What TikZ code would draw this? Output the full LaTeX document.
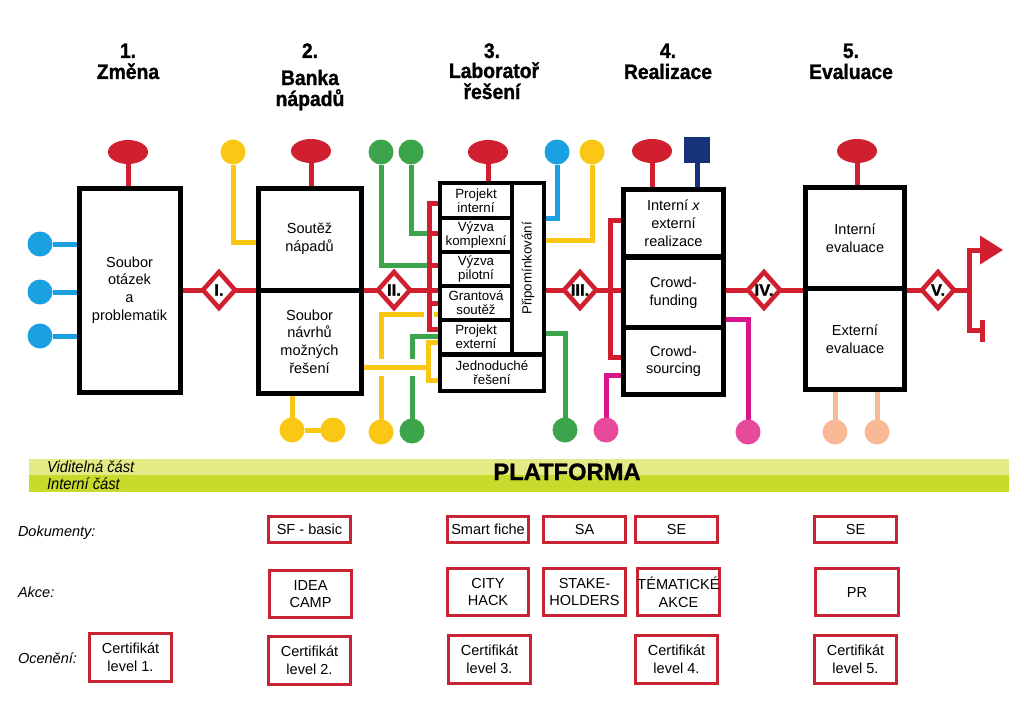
\documentclass[tikz,border=0pt]{standalone}
\usepackage{fontspec}
\setmainfont{Liberation Sans}
\newfontfamily\condfont{Liberation Sans}[FakeStretch=0.92]
\newfontfamily\heavyfont{Liberation Sans}[FakeStretch=0.92, BoldFeatures={FakeBold=1.2}]
\newfontfamily\heavywide{Liberation Sans}[BoldFeatures={FakeBold=1.2}]
\usetikzlibrary{shapes.geometric}
\pgfdeclarelayer{back}
\pgfdeclarelayer{bg}
\pgfsetlayers{back,bg,main}
\definecolor{cred}{RGB}{208,32,48}
\definecolor{cyel}{RGB}{250,200,20}
\definecolor{cgrn}{RGB}{60,165,75}
\definecolor{cblu}{RGB}{27,160,226}
\definecolor{cnav}{RGB}{22,50,120}
\definecolor{cmag}{RGB}{214,22,138}
\definecolor{cpink}{RGB}{232,74,155}
\definecolor{cpch}{RGB}{248,186,150}
\definecolor{bandA}{RGB}{228,234,134}
\definecolor{bandB}{RGB}{200,218,44}
\definecolor{bred}{RGB}{200,35,50}
\newcommand\lbl{\fontsize{10.9}{13.2}\selectfont}
\newcommand\cellf{\fontsize{10}{10.5}\selectfont}
\newcommand\diaf{\heavywide\bfseries\fontsize{12.5}{12.5}\selectfont}
\newcommand\headf{\heavyfont\bfseries\fontsize{15.75}{18}\selectfont}
\begin{document}
\begin{tikzpicture}[x=0.75pt,y=-0.75pt,
  every node/.style={inner sep=0pt, outer sep=0pt},
  ln/.style={line width=3.75pt},
  rl/.style={ln, draw=cred},
  yl/.style={ln, draw=cyel},
  gl/.style={ln, draw=cgrn},
  bl/.style={ln, draw=cblu},
  ml/.style={ln, draw=cmag},
  pl/.style={ln, draw=cpch},
  nl/.style={ln, draw=cnav},
  dot/.style={circle, fill=#1, minimum size=18.75pt},
  ell/.style={ellipse, fill=cred, minimum width=30pt, minimum height=18pt},
  box/.style={draw=black, line width=3.75pt, fill=white, align=center, font=\lbl},
  cell/.style={fill=white, align=center, font=\cellf},
  dia/.style={diamond, draw=cred, fill=white, line width=3.4pt, minimum width=24pt, minimum height=27pt},
  dialbl/.style={font=\diaf},
  head/.style={font=\headf, anchor=base},
  doc/.style={draw=bred, line width=2.25pt, align=center, font=\lbl, minimum width=61.5pt},
  rowlbl/.style={font=\lbl\itshape, anchor=base west},
  bandlbl/.style={font=\condfont\itshape\fontsize{12}{12}\selectfont, anchor=base west}
]
\useasboundingbox (0,0) rectangle (1024,724);
\begin{pgfonlayer}{back}
\fill[white] (0,0) rectangle (1024,724);
\end{pgfonlayer}

% headings
\node[head] (h1n) at (128,58) {1.};
\node[head] (h1t) at (128,79) {Změna};
\node[head] (h2n) at (310,58) {2.};
\node[head] (h2t) at (310,85) {Banka};
\node[head] (h2u) at (310,106) {nápadů};
\node[head] (h3n) at (492,58) {3.};
\node[head] (h3t) at (494,78) {Laboratoř};
\node[head] (h3u) at (492,99) {řešení};
\node[head] (h4n) at (668,58) {4.};
\node[head] (h4t) at (668,79) {Realizace};
\node[head] (h5n) at (851,58) {5.};
\node[head] (h5t) at (851,79) {Evaluace};

% boxes
\node[box, minimum width=75.75pt, minimum height=153pt] (b1) at (129.5,290) {Soubor\\otázek\\a\\problematik};
\node[box, minimum width=77.25pt, minimum height=76.5pt] (b2a) at (309.5,239) {Soutěž\\nápadů};
\node[box, minimum width=77.25pt, minimum height=77.25pt] (b2b) at (309.5,341.5) {Soubor\\návrhů\\možných\\řešení};

\node[fill=black, minimum width=81pt, minimum height=159pt] (b3) at (492,287) {};
\node[cell, minimum width=51pt, minimum height=23.25pt] (r1) at (476,200.5) {Projekt\\interní};
\node[cell, minimum width=51pt, minimum height=22.5pt] (r2) at (476,235) {Výzva\\komplexní};
\node[cell, minimum width=51pt, minimum height=22.5pt] (r3) at (476,269) {Výzva\\pilotní};
\node[cell, minimum width=51pt, minimum height=22.5pt] (r4) at (476,303) {Grantová\\soutěž};
\node[cell, minimum width=51pt, minimum height=22.5pt] (r5) at (476,337) {Projekt\\externí};
\node[cell, minimum width=75pt, minimum height=24pt] (r6) at (492,373) {Jednoduché\\řešení};
\node[cell, minimum width=21pt, minimum height=125.25pt] (rp) at (528,268.5) {};
\node[font=\cellf, rotate=90] (rpt) at (rp) {Připomínkování};

\node[box, minimum width=75pt, minimum height=50.6pt] (b4a) at (673.5,223.25) {Interní \textit{x}\\externí\\realizace};
\node[box, minimum width=75pt, minimum height=53.25pt] (b4b) at (673.5,292.5) {Crowd-\\funding};
\node[box, minimum width=75pt, minimum height=49.9pt] (b4c) at (673.5,361.25) {Crowd-\\sourcing};

\node[box, minimum width=74.25pt, minimum height=76.1pt] (b5a) at (855,238.25) {Interní\\evaluace};
\node[box, minimum width=74.25pt, minimum height=75.4pt] (b5b) at (855,339.25) {Externí\\evaluace};

% diamonds
\node[dia] (dI) at (219,290) {};   \node[dialbl] (tI) at (dI) {I.};
\node[dia] (dII) at (394,290) {};  \node[dialbl] (tII) at (dII) {II.};
\node[dia] (dIII) at (580,290) {}; \node[dialbl] (tIII) at (dIII) {III.};
\node[dia] (dIV) at (764,290) {};  \node[dialbl] (tIV) at (dIV) {IV.};
\node[dia] (dV) at (938,290) {};   \node[dialbl] (tV) at (dV) {V.};

% ellipses and square
\node[ell] (e1) at (128,152) {};
\node[ell] (e2) at (311,151) {};
\node[ell] (e3) at (488,152) {};
\node[ell] (e4) at (652,151) {};
\node[ell] (e5) at (857,151) {};
\node[fill=cnav, minimum size=19.5pt] (sq) at (697,150) {};

% circles
\node[dot=cblu] (u1) at (40,244) {};
\node[dot=cblu] (u2) at (40,292) {};
\node[dot=cblu] (u3) at (40,336) {};
\node[dot=cyel] (y1) at (233,152) {};
\node[dot=cyel] (ya) at (292,430) {};
\node[dot=cyel] (yb2) at (333,430) {};
\node[dot=cgrn] (g1) at (381,152) {};
\node[dot=cgrn] (g2) at (411,152) {};
\node[dot=cyel] (yb) at (381,432) {};
\node[dot=cgrn] (gb) at (412,431) {};
\node[dot=cblu] (bc) at (557,152) {};
\node[dot=cyel] (yc2) at (592,152) {};
\node[dot=cgrn] (gc2) at (565,430) {};
\node[dot=cpink] (mc1) at (606,430) {};
\node[dot=cpink] (mc2) at (748,432) {};
\node[dot=cpch] (pc1) at (835,432) {};
\node[dot=cpch] (pc2) at (877,432) {};

% bend points
\coordinate (y1j) at (233,242);
\coordinate (k3a) at (429,203);
\coordinate (g2j) at (429,233);
\coordinate (g1j) at (429,265);
\coordinate (k3m) at (429,303);
\coordinate (k3b) at (429,329);
\coordinate (yj) at (381,314);
\coordinate (gj) at (412,336);
\coordinate (yh) at (428,367);
\coordinate (yt) at (428,342);
\coordinate (ybt) at (428,380);
\coordinate (bj) at (557,218);
\coordinate (yj2) at (592,240);
\coordinate (gj2) at (565,333);
\coordinate (k4a) at (610,220);
\coordinate (k4b) at (610,357);
\coordinate (mj1) at (606,375);
\coordinate (mj2) at (748,319);
\coordinate (fj) at (969,290);
\coordinate (fa) at (969,250);
\coordinate (fb) at (969,330);
\coordinate (fe) at (982,330);
\coordinate (fet) at (982,320);
\coordinate (feb) at (982,342);
\coordinate (flag) at (980,250);

\begin{pgfonlayer}{bg}
  % stems
  \draw[rl] (e1) -- (e1 |- b1);
  \draw[rl] (e2) -- (e2 |- b2a);
  \draw[rl] (e3) -- (e3 |- b3);
  \draw[rl] (e4) -- (e4 |- b4a);
  \draw[nl] (sq) -- (sq |- b4a);
  \draw[rl] (e5) -- (e5 |- b5a);
  % box 1
  \draw[bl] (u1) -- (u1 -| b1);
  \draw[bl] (u2) -- (u2 -| b1);
  \draw[bl] (u3) -- (u3 -| b1);
  % box 2
  \draw[yl] (y1) |- (y1j -| b2a);
  \draw[yl] (ya) -- (ya |- b2b);
  \draw[yl] (ya) -- (yb2);
  % box 3 left
  \draw[gl] (g1) |- (g1j);
  \draw[gl] (g2) |- (g2j);
  \draw[yl] (yb) |- (yj -| r4);
  \draw[gl] (gb) |- (gj -| r5);
  \draw[white, line width=12.75pt, shorten <=-4.5pt, shorten >=-4.5pt] (yb |- yh) -- (gb |- yh);
  \draw[yl] (b2b |- yh) -- (yh);
  \draw[yl] (yt -| r5) -- (yt) -- (ybt) -- (ybt -| r6);
  \draw[white, line width=7.5pt] (k3a |- yj) ++(0,-4) -- ++(0,8);
  \draw[rl] (k3a -| r1) -- (k3a) -- (k3b) -- (k3b -| r5);
  \draw[rl] (g2j) -- (g2j -| r2);
  \draw[rl] (g1j) -- (g1j -| r3);
  \draw[rl] (k3m) -- (k3m -| r4);
  % box 3 right
  \draw[bl] (bc) |- (bj -| b3);
  \draw[yl] (yc2) |- (yj2 -| b3);
  \draw[gl] (gc2) |- (gj2 -| b3);
  % box 4
  \draw[rl] (k4a -| b4a) -- (k4a) -- (k4b) -- (k4b -| b4c);
  \draw[ml] (mc1) |- (mj1 -| b4c);
  \draw[ml] (mc2) |- (mj2 -| b4b);
  % box 5
  \draw[pl] (pc1) -- (pc1 |- b5b);
  \draw[pl] (pc2) -- (pc2 |- b5b);
  % main line
  \draw[rl] (b1) -- (dI) -- (b2a.south);
  \draw[rl] (b2a.south) -- (dII) -- (dII -| r4);
  \draw[rl] (b3 |- dIII) -- (dIII) -- (dIII -| b4b);
  \draw[rl] (b4b |- dIV) -- (dIV) -- (dIV -| b5a);
  \draw[rl] (dV -| b5a) -- (dV) -- (fj);
  \draw[rl] (flag) -- (fa) -- (fb) -- (fe);
  \draw[rl] (fet) -- (feb);
\end{pgfonlayer}
\fill[cred] (flag) ++(0,-14.5) -- ++(23,14.5) -- ++(-23,14.5) -- cycle;

% platform band
\fill[bandA] (29,459) rectangle (1009,475);
\fill[bandB] (29,475) rectangle (1009,492);
\node[bandlbl] (vis) at (47,472) {Viditelná část};
\node[bandlbl] (intc) at (47,489) {Interní část};
\node[font=\heavywide\bfseries\fontsize{17.8}{17.8}\selectfont, anchor=base] (plat) at (567,480) {PLATFORMA};

% row labels
\node[rowlbl] (ldok) at (18,536) {Dokumenty:};
\node[rowlbl] (lakc) at (18,597) {Akce:};
\node[rowlbl] (locn) at (18,663) {Ocenění:};

% documents
\node[doc, minimum height=19.5pt] (d2) at (309.5,529.5) {SF - basic};
\node[doc, minimum height=19.5pt, minimum width=60.75pt] (d3) at (488,529.5) {Smart fiche};
\node[doc, minimum height=19.5pt] (d3b) at (584.5,529.5) {SA};
\node[doc, minimum height=19.5pt] (d4) at (676.5,529.5) {SE};
\node[doc, minimum height=19.5pt] (d5) at (855.5,529.5) {SE};
% actions
\node[doc, minimum height=35.25pt] (a2) at (310.5,594) {IDEA\\CAMP};
\node[doc, minimum height=35.25pt, minimum width=60.75pt] (a3) at (488,592) {CITY\\HACK};
\node[doc, minimum height=35.25pt] (a3b) at (584.5,592) {STAKE-\\HOLDERS};
\node[doc, minimum height=35.25pt] (a4) at (678.5,592) {TÉMATICKÉ\\AKCE};
\node[doc, minimum height=35.25pt, minimum width=62.25pt] (a5) at (857,592) {PR};
% certificates
\node[doc, minimum height=36pt] (c1) at (130.5,657.5) {Certifikát\\level 1.};
\node[doc, minimum height=36pt] (c2) at (309.5,660.5) {Certifikát\\level 2.};
\node[doc, minimum height=36pt] (c3) at (489.5,659) {Certifikát\\level 3.};
\node[doc, minimum height=36pt] (c4) at (676.5,659) {Certifikát\\level 4.};
\node[doc, minimum height=36pt] (c5) at (855.5,659) {Certifikát\\level 5.};
\end{tikzpicture}
\end{document}
